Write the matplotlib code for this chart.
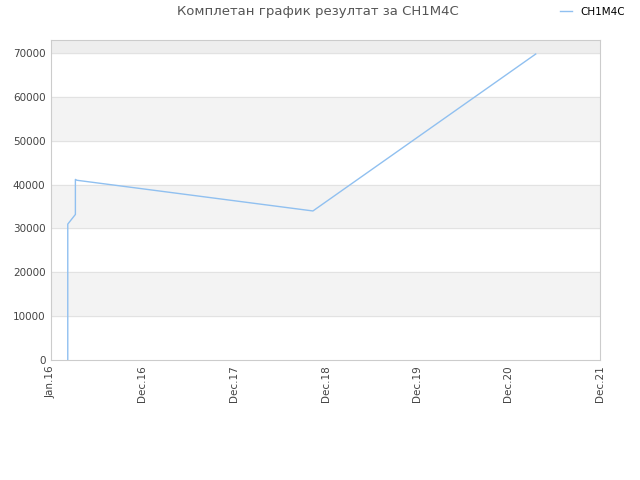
import numpy as np
import pandas as pd
import matplotlib
matplotlib.use("Agg")
import matplotlib.pyplot as plt

# points
dates = pd.to_datetime(["2016-03-07", "2016-03-07", "2016-04-06", "2016-04-06",
                        "2016-04-12", "2018-10-28", "2021-03-23"])
values = [0, 31000, 33200, 41200, 41000, 34000, 69800]

tick_labels = ["Jan.16", "Dec.16", "Dec.17", "Dec.18", "Dec.19", "Dec.20", "Dec.21"]
x_start = pd.Timestamp("2016-01-01")
x_end = pd.Timestamp("2021-12-01")

fig = plt.figure(figsize=(6.4, 4.8), dpi=100)
ax = fig.add_axes([51 / 640, 120 / 480, 549 / 640, 320 / 480])

# alternating bands
ax.axhspan(70000, 73000, color="#eeeeee", zorder=0)
for lo in range(10000, 70000, 20000):
    ax.axhspan(lo, lo + 10000, color="#f3f3f3", zorder=0)
for y in range(10000, 80000, 10000):
    ax.axhline(y, color="#e2e2e2", lw=0.8, zorder=1)

ax.plot(dates, values, color="#90c0f0", lw=1, label="CH1M4C", zorder=3)

ax.set_xlim(x_start, x_end)
ax.set_ylim(0, 73000)
ticks = pd.date_range(x_start, x_end, periods=len(tick_labels))
ax.set_xticks(ticks)
ax.set_xticklabels(tick_labels, rotation=90)
ax.set_yticks(range(0, 80000, 10000))
ax.tick_params(colors="#444444", labelsize=7.5, length=0, pad=4)
for s in ax.spines.values():
    s.set_color("#cccccc")

fig.text(0.497, 1 - 12 / 480, "Комплетан график резултат за CH1M4C", ha="center", va="center",
         fontsize=9.5, color="#555555")
leg = fig.legend(loc="center right", bbox_to_anchor=(0.985, 1 - 12 / 480), frameon=False,
                 fontsize=7.5, handlelength=1.2, borderpad=0)

fig.savefig("out.png", dpi=100)
